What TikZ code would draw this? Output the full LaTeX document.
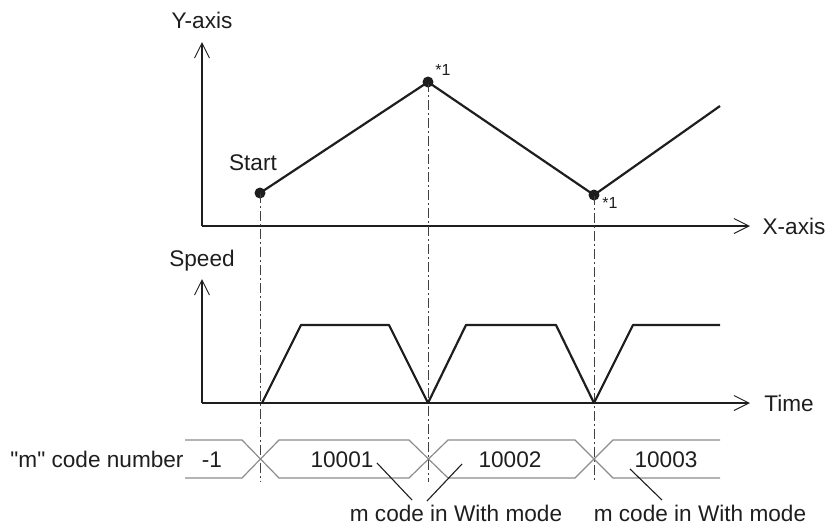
\documentclass[tikz,border=0pt]{standalone}
\usepackage{fontspec}
\setmainfont{Liberation Sans}
\usepackage{tikz}
\usetikzlibrary{arrows.meta}
\definecolor{ink}{HTML}{1E1E1E}
\definecolor{bandgray}{HTML}{8C8C8C}
\definecolor{guidegray}{HTML}{404040}

\tikzset{
  axisline/.style={draw=ink, line width=0.55pt, -{Straight Barb[length=7.5pt,width=7.5pt,line width=0.5pt]}},
  trace/.style={draw=ink, line width=1.1pt, line join=round},
  guide/.style={draw=guidegray, line width=0.45pt, dash pattern=on 5pt off 1.5pt on 1pt off 1.5pt},
  bandline/.style={draw=bandgray, line width=0.6pt},
  leader/.style={draw=ink, line width=0.55pt},
  pt/.style={circle, fill=ink, inner sep=0pt, minimum size=5.5pt},
  lbl/.style={font=\fontsize{11.3}{13}\selectfont, text=ink, inner sep=0pt, anchor=base},
  mark1/.style={font=\fontsize{8}{9}\selectfont, text=ink, inner sep=0pt, anchor=base west}
}

\begin{document}
\begin{tikzpicture}[x=0.5pt,y=-0.5pt]
\useasboundingbox (0,0) rectangle (827,526);

% axes
\coordinate (o1) at (202,226);
\coordinate (ytip) at (202,42);
\coordinate (xtip) at (750,226);
\coordinate (o2) at (202,403);
\coordinate (vtip) at (202,279);
\coordinate (ttip) at (750,403);
\draw[axisline] (o1) -- (ytip);
\draw[axisline] (o1) -- (xtip);
\draw[axisline] (o2) -- (vtip);
\draw[axisline] (o2) -- (ttip);
\node[lbl] (ylab) at (202,28) {Y-axis};
\node[lbl] (xlab) at (794,234) {X-axis};
\node[lbl] (vlab) at (202,266) {Speed};
\node[lbl] (tlab) at (789,411) {Time};

% path points
\node[pt] (start) at (260,193) {};
\node[pt] (peak) at (428,82) {};
\node[pt] (valley) at (594,195) {};
\coordinate (yend) at (720,106);
\node[lbl] (startlab) at (253,170) {Start};
\node[mark1] (peaklab) at (435,75) {*1};
\node[mark1] (valleylab) at (602,208) {*1};

% dash-dot guides
\coordinate (g1) at (260,482);
\coordinate (g2) at (428,482);
\coordinate (g3) at (594,482);
\draw[guide] (start.center) -- (g1);
\draw[guide] (peak.center) -- (g2);
\draw[guide] (valley.center) -- (g3);

\draw[trace] (start.center) -- (peak.center) -- (valley.center) -- (yend);

% speed profile
\draw[trace] (262,403) -- (301,325) -- (389,325) -- (428,403) -- (466,325)
  -- (556,325) -- (594,403) -- (633,325) -- (720,325);

% m code band
\draw[bandline] (185,440) -- (242,440) -- (279,478) -- (409,478) -- (448,440)
  -- (575,440) -- (613,478) -- (720,478);
\draw[bandline] (185,478) -- (242,478) -- (279,440) -- (409,440) -- (448,478)
  -- (575,478) -- (613,440) -- (720,440);
\node[lbl] (mlab) at (97,467) {\textquotedbl m\textquotedbl{} code number};
\node[lbl] (m0) at (212,467) {-1};
\node[lbl] (m1) at (342,467) {10001};
\node[lbl] (m2) at (510,467) {10002};
\node[lbl] (m3) at (666,467) {10003};

% with mode notes
\node[lbl] (with1) at (456,521) {m code in With mode};
\node[lbl] (with2) at (700,521) {m code in With mode};
\coordinate (a1) at (377,463);
\coordinate (a2) at (462,464);
\coordinate (a3) at (630,469);
\coordinate (b1) at (412,500);
\coordinate (b2) at (427,501);
\coordinate (b3) at (662,500);
\draw[leader] (a1) -- (b1);
\draw[leader] (a2) -- (b2);
\draw[leader] (a3) -- (b3);
\end{tikzpicture}
\end{document}
